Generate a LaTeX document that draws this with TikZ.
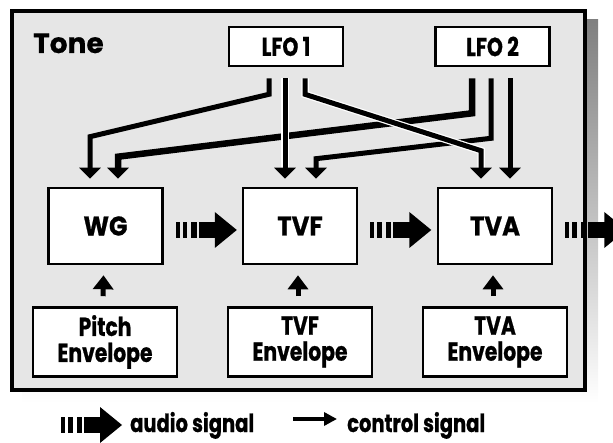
\documentclass[tikz,border=0pt]{standalone}
\usepackage{fontspec}
\setmainfont{Poppins}[BoldFeatures={FakeBold=0.6}]
\newfontfamily\narrowfont{Poppins}[FakeStretch=0.78, BoldFeatures={FakeBold=0.7}]
\newfontfamily\unitfont{Poppins}[FakeStretch=0.9, BoldFeatures={FakeBold=0.7}]
\usetikzlibrary{arrows.meta,calc}

\definecolor{panel}{HTML}{E6E6E6}
\definecolor{shade}{HTML}{BDBDBD}

\tikzset{
  blk/.style={draw, line width=2.6pt, fill=white, inner sep=0pt, align=center,
    font=\narrowfont\bfseries\fontsize{26}{26}\selectfont},
  lfobox/.style={blk, minimum width=114pt, minimum height=39pt},
  unitbox/.style={blk, minimum width=114pt, minimum height=76pt,
    font=\unitfont\bfseries\fontsize{27}{27}\selectfont},
  envbox/.style={blk, minimum width=144pt, minimum height=69pt},
  ctrl/.style={line width=5pt, line join=miter, -{Triangle[width=21pt,length=11pt]}},
  ctrlhalo/.style={ctrl, preaction={draw=white, line width=7.5pt, -, shorten >=11pt}},
  envarrow/.style={line width=5pt, -{Triangle[width=20pt,length=14pt]}},
  legendtext/.style={font=\narrowfont\bfseries\fontsize{25}{26}\selectfont,
    inner sep=0pt, anchor=base west},
  audio/.pic={
    \fill (0,-8) rectangle (4,8);
    \fill (7,-8) rectangle (11.5,8);
    \fill (15.5,-8) rectangle (21,8);
    \fill (23,-8) rectangle (39.5,8);
    \fill (39,-18) -- (61,0) -- (39,18) -- cycle;
  }
}

\begin{document}
\begin{tikzpicture}[x=1pt,y=-1pt]
  \useasboundingbox (0,0) rectangle (613,443);
  \clip (0,0) rectangle (613,443);

  % panel with its drop shadow
  \fill[shade] (22,20) rectangle (598,403);
  \draw[line width=4pt, fill=panel] (12,11) rectangle (585,390);
  \node[font=\bfseries\fontsize{28}{30}\selectfont, inner sep=0pt, anchor=base west]
    (tone) at (33,53) {Tone};

  % blocks
  \node[lfobox] (lfo1) at (286,46.5) {LFO 1};
  \node[lfobox] (lfo2) at (492.5,46.5) {LFO 2};
  \node[unitbox] (wg)  at (105.5,226) {WG};
  \node[unitbox] (tvf) at (300,226) {TVF};
  \node[unitbox] (tva) at (495,226) {TVA};
  \node[envbox] (penv)   at (105,342) {Pitch\\Envelope};
  \node[envbox] (tvfenv) at (300,342) {TVF\\Envelope};
  \node[envbox] (tvaenv) at (495,342) {TVA\\Envelope};

  % LFO 2 modulation paths
  \draw[ctrl, line width=6.5pt]
    ($(lfo2.south)+(-20.5,11)$) -- ($(lfo2.south)+(-20.5,46)$)
    -- ($(wg.north)+(12.5,-30)$) -- ($(wg.north)+(12.5,-8)$);
  \draw[ctrl]
    ($(lfo2.south)+(-1.5,11)$) -- ($(lfo2.south)+(-1.5,71)$)
    -- ($(tvf.north)+(16,-28)$) -- ($(tvf.north)+(16,-8)$);
  \draw[ctrl]
    ($(lfo2.south)+(17.5,11)$) -- ($(tva.north)+(15,-8)$);

  % LFO 1 modulation paths
  \draw[ctrl]
    ($(lfo1.south)+(-17,11)$) -- ($(lfo1.south)+(-17,27)$)
    -- ($(wg.north)+(-15.5,-50)$) -- ($(wg.north)+(-15.5,-8)$);
  \draw[ctrlhalo]
    ($(lfo1.south)+(-1,11)$) -- ($(tvf.north)+(-15,-8)$);
  \draw[ctrlhalo]
    ($(lfo1.south)+(19,11)$) -- ($(lfo1.south)+(19,27)$)
    -- ($(tva.north)+(-14,-36)$) -- ($(tva.north)+(-14,-8)$);

  % envelope control inputs
  \foreach \e/\u in {penv/wg, tvfenv/tvf, tvaenv/tva}
    \draw[envarrow] ($(\e.north)+(-2,-10)$) -- ($(\u.south)+(-2,10)$);

  % audio signal flow
  \pic at ($(wg.east)+(12,4)$) {audio};
  \pic at ($(tvf.east)+(12,4)$) {audio};
  \pic at ($(tva.east)+(12,4)$) {audio};

  % legend
  \coordinate (la) at (61,425);
  \pic at (la) {audio};
  \node[legendtext] (audiolbl) at (130,432) {audio signal};
  \coordinate (lc) at (293,419);
  \coordinate (ld) at (337,419);
  \draw[line width=4pt, -{Triangle[width=13pt,length=13pt]}] (lc) -- (ld);
  \node[legendtext] (ctrllbl) at (347,432) {control signal};
\end{tikzpicture}
\end{document}
